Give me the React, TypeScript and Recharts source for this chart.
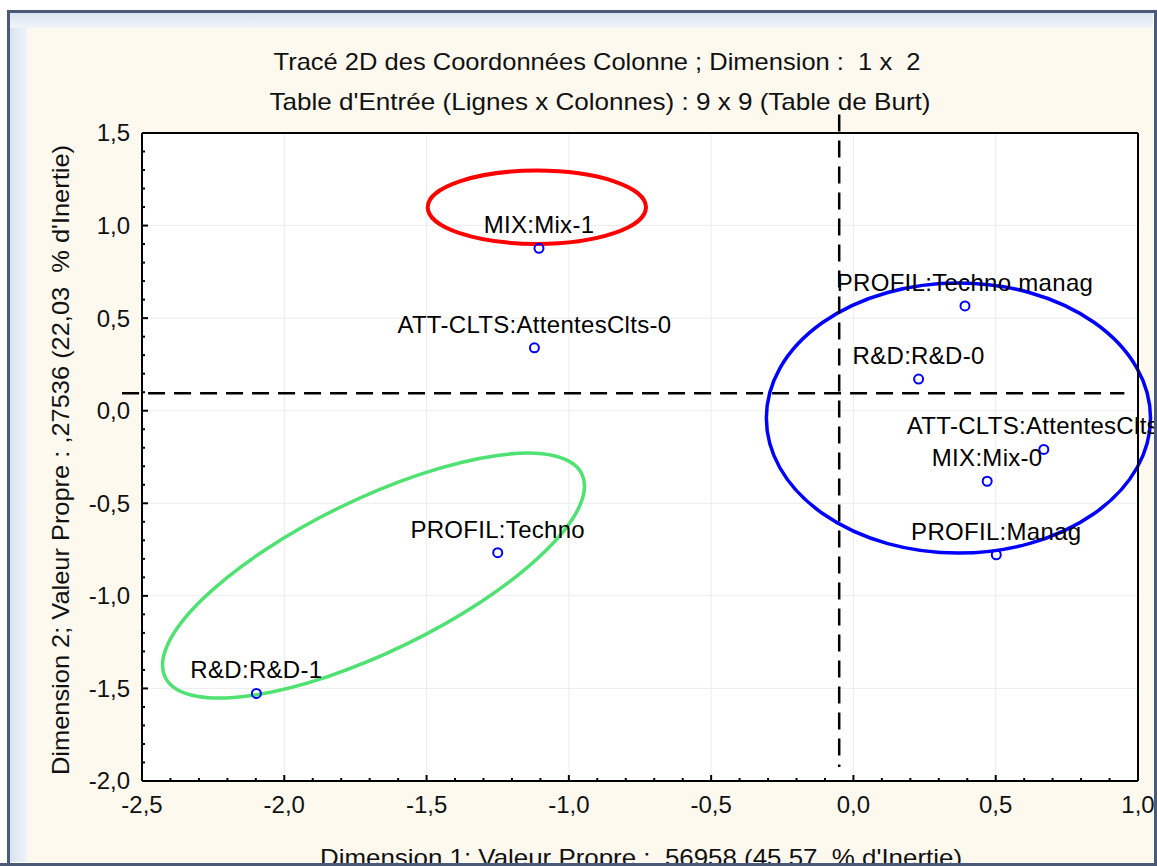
import React from 'react';
import {
  ScatterChart,
  Scatter,
  XAxis,
  YAxis,
  CartesianGrid,
  ReferenceLine,
  ReferenceArea
} from 'recharts';

// category labels and their coordinates on the two dimensions
const pointNames = [
  'MIX:Mix-1',
  'ATT-CLTS:AttentesClts-0',
  'PROFIL:Techno manag',
  'R&D:R&D-0',
  'ATT-CLTS:AttentesClts-1',
  'MIX:Mix-0',
  'PROFIL:Manag',
  'PROFIL:Techno',
  'R&D:R&D-1'
];
const dim1 = [-1.105, -1.121, 0.392, 0.229, 0.669, 0.47, 0.502, -1.25, -2.098];
const dim2 = [0.877, 0.34, 0.566, 0.171, -0.209, -0.381, -0.778, -0.767, -1.527];

const xMajorTicks = [-2.5, -2.0, -1.5, -1.0, -0.5, 0.0, 0.5, 1.0];
const yMajorTicks = [-2.0, -1.5, -1.0, -0.5, 0.0, 0.5, 1.0, 1.5];

// minor ticks every 0.1 between the majors
const subdivide = (majors: number[]) => {
  const out: number[] = [];
  for (let v = Math.round(majors[0] * 10); v <= Math.round(majors[majors.length - 1] * 10); v++) out.push(v / 10);
  return out;
};
const xTicks = subdivide(xMajorTicks);
const yTicks = subdivide(yMajorTicks);

// dashed cross lines (data units)
const crossX = -0.05;
const crossY = 0.095;

// hand drawn group ellipses: bounding box in data units + tilt
const groups = [
  { color: '#ff0000', x1: -1.496, x2: -0.729, y1: 0.901, y2: 1.297, angle: 0, width: 4 },
  { color: '#0000ff', x1: -0.306, x2: 1.044, y1: -0.769, y2: 0.69, angle: 0, width: 3.5 },
  { color: '#4fe171', x1: -2.428, x2: -0.945, y1: -1.552, y2: -0.229, angle: -26, width: 3.5 }
];

const data = pointNames.map((name, i) => ({ name, x: dim1[i], y: dim2[i] }));

const FONT = "'Liberation Sans', Arial, sans-serif";
const fmt = (v: number) => v.toFixed(1).replace('.', ',');
const isMajor = (v: number) => Math.abs(v * 2 - Math.round(v * 2)) < 1e-6;

const BottomTick = (p: any) => {
  const v = p.payload.value;
  const major = isMajor(v);
  return (
    <g>
      <line x1={p.x} y1={p.y} x2={p.x} y2={p.y - (major ? 6 : 3)} stroke="#000" strokeWidth={2} />
      {major && (
        <text x={p.x} y={p.y + 32} textAnchor="middle" fontFamily={FONT} fontSize={24} fill="#111">
          {fmt(v)}
        </text>
      )}
    </g>
  );
};

const TopTick = (p: any) => {
  const major = isMajor(p.payload.value);
  return <line x1={p.x} y1={p.y} x2={p.x} y2={p.y + (major ? 6 : 3)} stroke="#000" strokeWidth={2} />;
};

const LeftTick = (p: any) => {
  const v = p.payload.value;
  const major = isMajor(v);
  return (
    <g>
      <line x1={p.x} y1={p.y} x2={p.x + (major ? 6 : 3)} y2={p.y} stroke="#000" strokeWidth={2} />
      {major && (
        <text x={p.x - 12} y={p.y} dy="0.35em" textAnchor="end" fontFamily={FONT} fontSize={24} fill="#111">
          {fmt(v)}
        </text>
      )}
    </g>
  );
};

const RightTick = (p: any) => {
  const major = isMajor(p.payload.value);
  return <line x1={p.x} y1={p.y} x2={p.x - (major ? 6 : 3)} y2={p.y} stroke="#000" strokeWidth={2} />;
};

const PointShape = (p: any) => (
  <g>
    <circle cx={p.cx} cy={p.cy} r={4.5} fill="none" stroke="#0000ff" strokeWidth={2} />
    <text
      x={p.cx}
      y={p.cy - 15}
      textAnchor="middle"
      fontFamily={FONT}
      fontSize={24}
      letterSpacing={0.3}
      fill="#000"
    >
      {p.payload.name}
    </text>
  </g>
);

// ellipse inscribed in the reference area box, optionally tilted
const ellipseShape = (color: string, angle: number, width: number) => (p: any) => {
  const cx = p.x + p.width / 2;
  const cy = p.y + p.height / 2;
  const W = Math.abs(p.width) / 2;
  const H = Math.abs(p.height) / 2;
  const t = (angle * Math.PI) / 180;
  const c = Math.cos(t) ** 2;
  const s = Math.sin(t) ** 2;
  const k = c - s;
  const rx = Math.sqrt(Math.max(1, (W * W * c - H * H * s) / k));
  const ry = Math.sqrt(Math.max(1, (H * H * c - W * W * s) / k));
  return (
    <ellipse
      cx={cx}
      cy={cy}
      rx={rx}
      ry={ry}
      transform={`rotate(${angle} ${cx} ${cy})`}
      fill="none"
      stroke={color}
      strokeWidth={width}
    />
  );
};

const axisLine = { stroke: '#000', strokeWidth: 2 };
const pre = { whiteSpace: 'pre' as const };

export default function App() {
  return (
    <div
      style={{
        position: 'absolute',
        left: 0,
        top: 0,
        width: 1157,
        height: 866,
        background: '#fff',
        overflow: 'hidden'
      }}
    >
      <div
        style={{
          position: 'absolute',
          left: 10,
          top: 13,
          width: 1143,
          height: 849,
          background: 'linear-gradient(90deg, #d9e4f1 0px, #eef3f9 17px, #eef3f9 100%)'
        }}
      />
      <div
        style={{
          position: 'absolute',
          left: 10,
          top: 13,
          width: 1143,
          height: 15,
          background: 'linear-gradient(180deg, #d9e4f1, #f1f5fa)'
        }}
      />
      <div
        style={{ position: 'absolute', left: 27, top: 28, width: 1126, height: 834, background: '#fdf9ef' }}
      />

      <div style={{ position: 'absolute', left: 0, top: 0 }}>
        <ScatterChart width={1157} height={866} margin={{ top: 132, right: 18, bottom: 84, left: 141 }}>
          <CartesianGrid
            fill="#fff"
            stroke="#ececec"
            verticalValues={xMajorTicks}
            horizontalValues={yMajorTicks}
          />
          <XAxis
            type="number"
            dataKey="x"
            domain={[-2.5, 1]}
            ticks={xTicks}
            interval={0}
            height={1}
            tickSize={0}
            tickMargin={0}
            tick={BottomTick}
            axisLine={axisLine}
          />
          <XAxis
            xAxisId="top"
            orientation="top"
            type="number"
            domain={[-2.5, 1]}
            ticks={xTicks}
            interval={0}
            height={1}
            tickSize={0}
            tickMargin={0}
            tick={TopTick}
            axisLine={axisLine}
          />
          <YAxis
            type="number"
            dataKey="y"
            domain={[-2, 1.5]}
            ticks={yTicks}
            interval={0}
            width={1}
            tickSize={0}
            tickMargin={0}
            tick={LeftTick}
            axisLine={axisLine}
          />
          <YAxis
            yAxisId="right"
            orientation="right"
            type="number"
            domain={[-2, 1.5]}
            ticks={yTicks}
            interval={0}
            width={1}
            tickSize={0}
            tickMargin={0}
            tick={RightTick}
            axisLine={axisLine}
          />
          <Scatter data={data} shape={PointShape} isAnimationActive={false} />
          <ReferenceLine
            segment={[
              { x: crossX, y: 1.6 },
              { x: crossX, y: -1.925 }
            ]}
            ifOverflow="visible"
            stroke="#000"
            strokeWidth={2.5}
            strokeDasharray="17 9"
          />
          <ReferenceLine
            segment={[
              { x: -2.57, y: crossY },
              { x: 0.952, y: crossY }
            ]}
            ifOverflow="visible"
            stroke="#000"
            strokeWidth={2.5}
            strokeDasharray="17 9"
          />
          {groups.map((g, i) => (
            <ReferenceArea
              key={i}
              x1={g.x1}
              x2={g.x2}
              y1={g.y1}
              y2={g.y2}
              ifOverflow="visible"
              shape={ellipseShape(g.color, g.angle, g.width)}
            />
          ))}
        </ScatterChart>
      </div>

      <svg
        width={1157}
        height={866}
        style={{ position: 'absolute', left: 0, top: 0, pointerEvents: 'none' }}
      >
        <g fontFamily={FONT} fill="#111">
          <text x={597} y={70} textAnchor="middle" fontSize={24} textLength={647} lengthAdjust="spacingAndGlyphs" style={pre}>
            {'Tracé 2D des Coordonnées Colonne ; Dimension :  1 x  2'}
          </text>
          <text x={600} y={110} textAnchor="middle" fontSize={24} textLength={661} lengthAdjust="spacingAndGlyphs" style={pre}>
            {"Table d'Entrée (Lignes x Colonnes) : 9 x 9 (Table de Burt)"}
          </text>
          <text
            transform="translate(69 460) rotate(-90)"
            textAnchor="middle"
            fontSize={24}
            textLength={630}
            lengthAdjust="spacingAndGlyphs"
            style={pre}
          >
            {"Dimension 2; Valeur Propre : ,27536 (22,03  % d'Inertie)"}
          </text>
          <text x={641} y={866} textAnchor="middle" fontSize={24} textLength={642} lengthAdjust="spacingAndGlyphs" style={pre}>
            {"Dimension 1: Valeur Propre : ,56958 (45,57  % d'Inertie)"}
          </text>
        </g>
      </svg>

      <div
        style={{
          position: 'absolute',
          left: 7,
          top: 10,
          width: 1150,
          height: 856,
          boxSizing: 'border-box',
          border: '3px solid #4b5b77',
          pointerEvents: 'none'
        }}
      />
      <div style={{ position: 'absolute', left: 0, top: 863, width: 1157, height: 3, background: '#4b5b77' }} />
    </div>
  );
}
